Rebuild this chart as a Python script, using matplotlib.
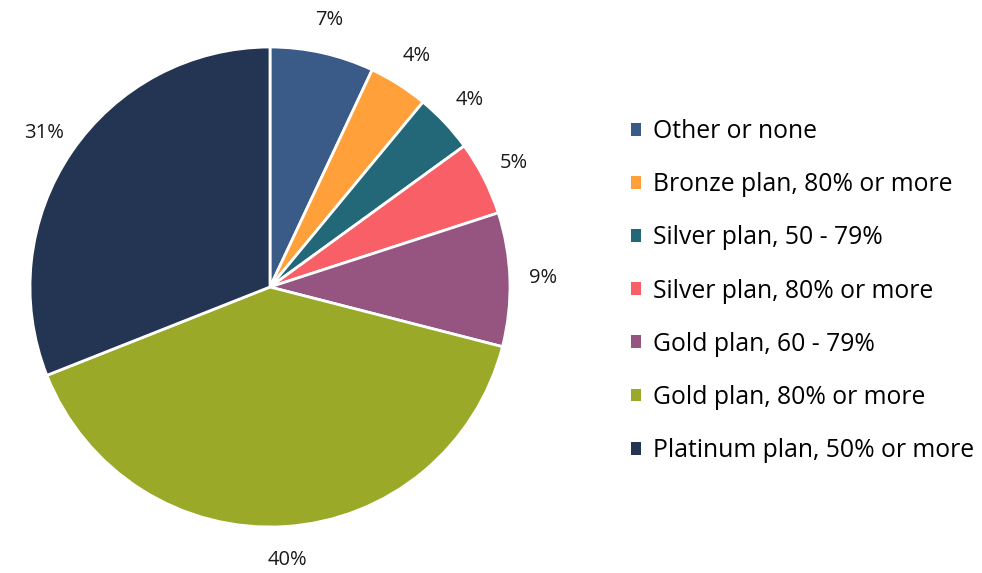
import matplotlib
matplotlib.use("Agg")
import matplotlib.pyplot as plt

categories = [
    "Other or none",
    "Bronze plan, 80% or more",
    "Silver plan, 50 - 79%",
    "Silver plan, 80% or more",
    "Gold plan, 60 - 79%",
    "Gold plan, 80% or more",
    "Platinum plan, 50% or more",
]
shares = [7, 4, 4, 5, 9, 40, 31]
colors = ["#3A5A88", "#FFA03A", "#226878", "#F95F66", "#955580", "#9AAA28", "#243553"]

plt.rcParams["font.family"] = ["Open Sans", "DejaVu Sans"]

fig = plt.figure(figsize=(9.82, 5.73), dpi=100)
ax = fig.add_axes([30 / 982, 1 - 527 / 573, 480 / 982, 480 / 573])

wedges, texts = ax.pie(
    shares,
    colors=colors,
    startangle=90,
    counterclock=False,
    labels=[f"{v}%" for v in shares],
    labeldistance=1.14,
    wedgeprops=dict(edgecolor="white", linewidth=2),
    textprops=dict(fontsize=14.5, color="#1a1a1a"),
)
for t in texts:
    t.set_horizontalalignment("center")
    t.set_verticalalignment("center")
ax.set_aspect("equal")
ax.set_xlim(-1, 1)
ax.set_ylim(-1, 1)

leg = fig.legend(
    wedges,
    categories,
    loc="center left",
    bbox_to_anchor=(631 / 982, 1 - 291 / 573),
    frameon=False,
    fontsize=17.8,
    handlelength=0.42,
    handleheight=0.42,
    handletextpad=0.45,
    labelspacing=1.14,
    borderaxespad=0,
    borderpad=0,
)
for h in leg.legend_handles:
    h.set_linewidth(0)

fig.savefig("out.png", dpi=100)
